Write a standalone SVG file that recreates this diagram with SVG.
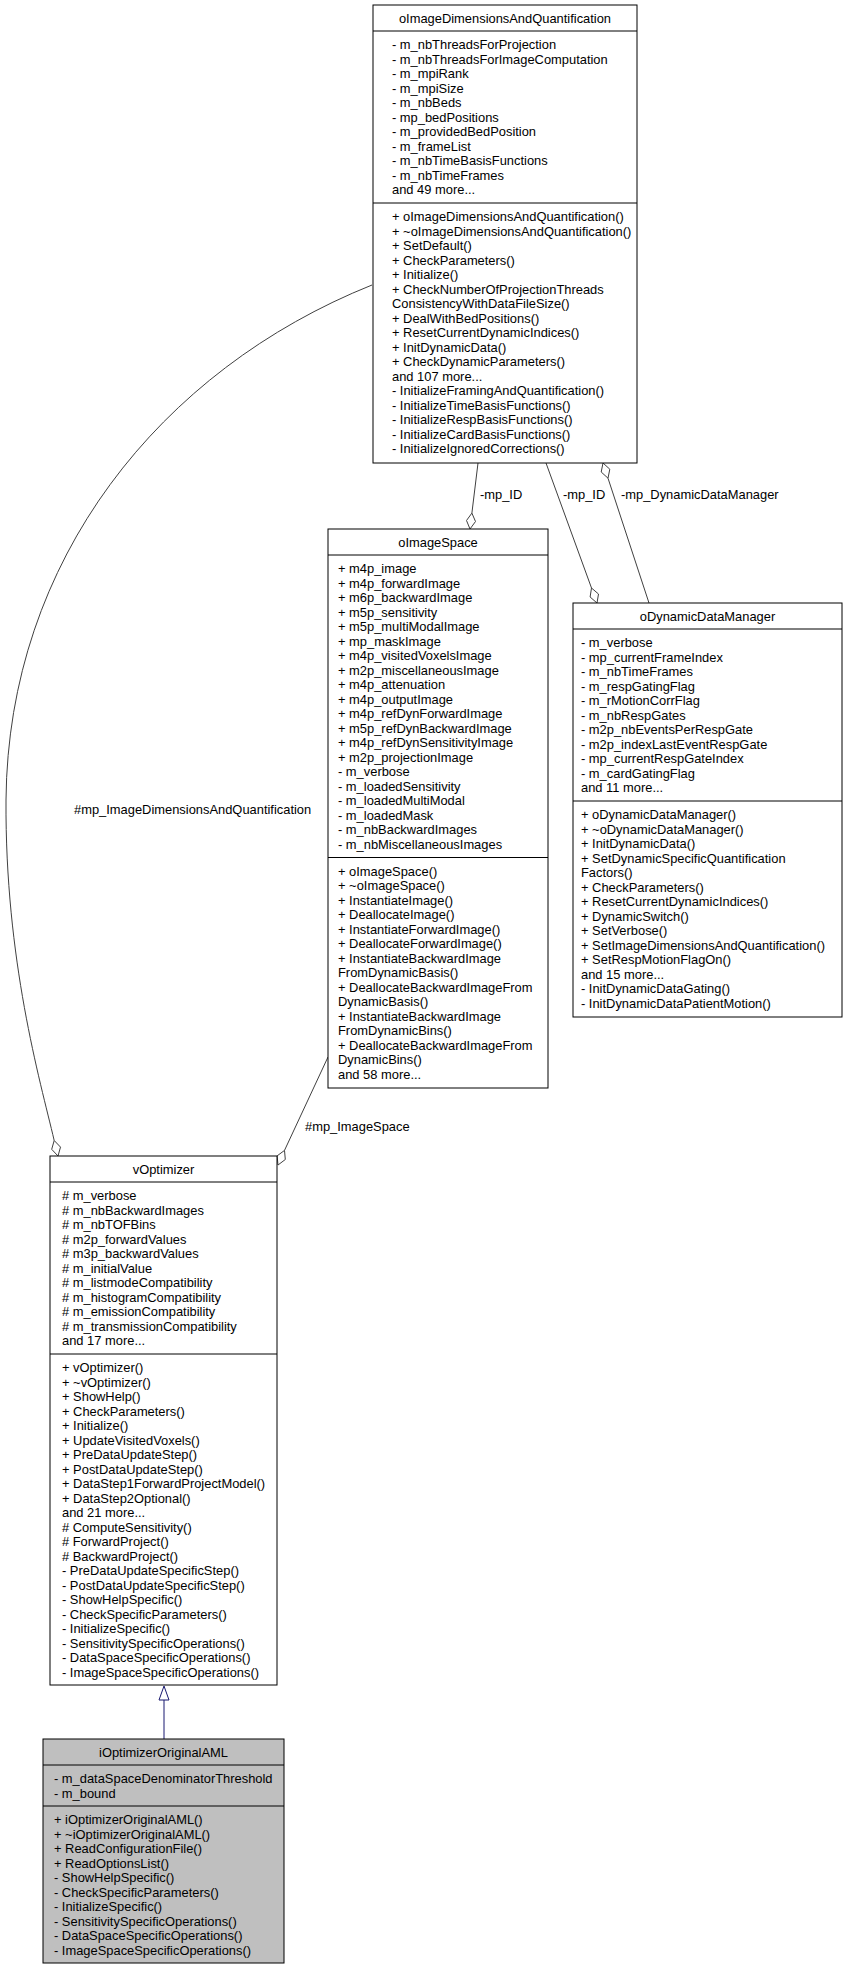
<svg xmlns="http://www.w3.org/2000/svg" width="848" height="1968" viewBox="0 0 848 1968">
<style>
text{font-family:"Liberation Sans",Arial,sans-serif;font-size:12.9px;fill:#000}
.t{text-anchor:middle}
.box{fill:#fff;stroke:#000;stroke-width:1}
.grey{fill:#bfbfbf;stroke:#000;stroke-width:1}
.sep{stroke:#000;stroke-width:1}
.edge{fill:none;stroke:#404040;stroke-width:1}
.dia{fill:#fff;stroke:#404040;stroke-width:1}
</style>
<rect width="848" height="1968" fill="#fff"/>
<g id="connectors">
<path class="edge" d="M372,285 C160,370 8,560 6,800 C5,960 40,1080 54.2,1140.5"/>
<polygon class="dia" points="58,1156 60.5,1147.1 54.2,1140.5 51.7,1149.3"/>
<text x="74" y="814">#mp_ImageDimensionsAndQuantification</text>
<path class="edge" d="M478,463 L471.9,513.1"/>
<polygon class="dia" points="470,529 475.5,521.5 471.9,513.1 466.5,520.5"/>
<text x="480" y="499">-mp_ID</text>
<path class="edge" d="M546,463 L591.5,588"/>
<polygon class="dia" points="597,603 598.5,594 591.5,588 590.1,597"/>
<text x="563" y="499">-mp_ID</text>
<path class="edge" d="M608,478.2 L649,603"/>
<polygon class="dia" points="603,463 609.8,469.2 608,478.2 601.2,472"/>
<text x="621" y="499">-mp_DynamicDataManager</text>
<path class="edge" d="M328,1057 L284.5,1150.4"/>
<polygon class="dia" points="278,1165 285.3,1159.5 284.5,1150.4 277.1,1155.9"/>
<text x="305" y="1131">#mp_ImageSpace</text>
<path d="M164,1739 L164,1700" fill="none" stroke="#191970" stroke-width="1"/>
<polygon points="164,1686 169,1700 159,1700" fill="#fff" stroke="#191970" stroke-width="1"/>
</g>
<g id="oImageDimensionsAndQuantification">
<rect class="box" x="373" y="5" width="264" height="458"/>
<line class="sep" x1="373" y1="31" x2="637" y2="31"/>
<line class="sep" x1="373" y1="203" x2="637" y2="203"/>
<text class="t" x="505" y="23">oImageDimensionsAndQuantification</text>
<text x="392" y="49">- m_nbThreadsForProjection</text>
<text x="392" y="63.5">- m_nbThreadsForImageComputation</text>
<text x="392" y="78">- m_mpiRank</text>
<text x="392" y="92.5">- m_mpiSize</text>
<text x="392" y="107">- m_nbBeds</text>
<text x="392" y="121.5">- mp_bedPositions</text>
<text x="392" y="136">- m_providedBedPosition</text>
<text x="392" y="150.5">- m_frameList</text>
<text x="392" y="165">- m_nbTimeBasisFunctions</text>
<text x="392" y="179.5">- m_nbTimeFrames</text>
<text x="392" y="194">and 49 more...</text>
<text x="392" y="221">+ oImageDimensionsAndQuantification()</text>
<text x="392" y="235.5">+ ~oImageDimensionsAndQuantification()</text>
<text x="392" y="250">+ SetDefault()</text>
<text x="392" y="264.5">+ CheckParameters()</text>
<text x="392" y="279">+ Initialize()</text>
<text x="392" y="293.5">+ CheckNumberOfProjectionThreads</text>
<text x="392" y="308">ConsistencyWithDataFileSize()</text>
<text x="392" y="322.5">+ DealWithBedPositions()</text>
<text x="392" y="337">+ ResetCurrentDynamicIndices()</text>
<text x="392" y="351.5">+ InitDynamicData()</text>
<text x="392" y="366">+ CheckDynamicParameters()</text>
<text x="392" y="380.5">and 107 more...</text>
<text x="392" y="395">- InitializeFramingAndQuantification()</text>
<text x="392" y="409.5">- InitializeTimeBasisFunctions()</text>
<text x="392" y="424">- InitializeRespBasisFunctions()</text>
<text x="392" y="438.5">- InitializeCardBasisFunctions()</text>
<text x="392" y="453">- InitializeIgnoredCorrections()</text>
</g>
<g id="oImageSpace">
<rect class="box" x="328" y="529" width="220" height="559"/>
<line class="sep" x1="328" y1="555" x2="548" y2="555"/>
<line class="sep" x1="328" y1="857.5" x2="548" y2="857.5"/>
<text class="t" x="438" y="547">oImageSpace</text>
<text x="338" y="573">+ m4p_image</text>
<text x="338" y="587.5">+ m4p_forwardImage</text>
<text x="338" y="602">+ m6p_backwardImage</text>
<text x="338" y="616.5">+ m5p_sensitivity</text>
<text x="338" y="631">+ m5p_multiModalImage</text>
<text x="338" y="645.5">+ mp_maskImage</text>
<text x="338" y="660">+ m4p_visitedVoxelsImage</text>
<text x="338" y="674.5">+ m2p_miscellaneousImage</text>
<text x="338" y="689">+ m4p_attenuation</text>
<text x="338" y="703.5">+ m4p_outputImage</text>
<text x="338" y="718">+ m4p_refDynForwardImage</text>
<text x="338" y="732.5">+ m5p_refDynBackwardImage</text>
<text x="338" y="747">+ m4p_refDynSensitivityImage</text>
<text x="338" y="761.5">+ m2p_projectionImage</text>
<text x="338" y="776">- m_verbose</text>
<text x="338" y="790.5">- m_loadedSensitivity</text>
<text x="338" y="805">- m_loadedMultiModal</text>
<text x="338" y="819.5">- m_loadedMask</text>
<text x="338" y="834">- m_nbBackwardImages</text>
<text x="338" y="848.5">- m_nbMiscellaneousImages</text>
<text x="338" y="875.5">+ oImageSpace()</text>
<text x="338" y="890">+ ~oImageSpace()</text>
<text x="338" y="904.5">+ InstantiateImage()</text>
<text x="338" y="919">+ DeallocateImage()</text>
<text x="338" y="933.5">+ InstantiateForwardImage()</text>
<text x="338" y="948">+ DeallocateForwardImage()</text>
<text x="338" y="962.5">+ InstantiateBackwardImage</text>
<text x="338" y="977">FromDynamicBasis()</text>
<text x="338" y="991.5">+ DeallocateBackwardImageFrom</text>
<text x="338" y="1006">DynamicBasis()</text>
<text x="338" y="1020.5">+ InstantiateBackwardImage</text>
<text x="338" y="1035">FromDynamicBins()</text>
<text x="338" y="1049.5">+ DeallocateBackwardImageFrom</text>
<text x="338" y="1064">DynamicBins()</text>
<text x="338" y="1078.5">and 58 more...</text>
</g>
<g id="oDynamicDataManager">
<rect class="box" x="573" y="603" width="269" height="414"/>
<line class="sep" x1="573" y1="629" x2="842" y2="629"/>
<line class="sep" x1="573" y1="801" x2="842" y2="801"/>
<text class="t" x="707.5" y="621">oDynamicDataManager</text>
<text x="581" y="647">- m_verbose</text>
<text x="581" y="661.5">- mp_currentFrameIndex</text>
<text x="581" y="676">- m_nbTimeFrames</text>
<text x="581" y="690.5">- m_respGatingFlag</text>
<text x="581" y="705">- m_rMotionCorrFlag</text>
<text x="581" y="719.5">- m_nbRespGates</text>
<text x="581" y="734">- m2p_nbEventsPerRespGate</text>
<text x="581" y="748.5">- m2p_indexLastEventRespGate</text>
<text x="581" y="763">- mp_currentRespGateIndex</text>
<text x="581" y="777.5">- m_cardGatingFlag</text>
<text x="581" y="792">and 11 more...</text>
<text x="581" y="819">+ oDynamicDataManager()</text>
<text x="581" y="833.5">+ ~oDynamicDataManager()</text>
<text x="581" y="848">+ InitDynamicData()</text>
<text x="581" y="862.5">+ SetDynamicSpecificQuantification</text>
<text x="581" y="877">Factors()</text>
<text x="581" y="891.5">+ CheckParameters()</text>
<text x="581" y="906">+ ResetCurrentDynamicIndices()</text>
<text x="581" y="920.5">+ DynamicSwitch()</text>
<text x="581" y="935">+ SetVerbose()</text>
<text x="581" y="949.5">+ SetImageDimensionsAndQuantification()</text>
<text x="581" y="964">+ SetRespMotionFlagOn()</text>
<text x="581" y="978.5">and 15 more...</text>
<text x="581" y="993">- InitDynamicDataGating()</text>
<text x="581" y="1007.5">- InitDynamicDataPatientMotion()</text>
</g>
<g id="vOptimizer">
<rect class="box" x="50" y="1156" width="227" height="529"/>
<line class="sep" x1="50" y1="1182" x2="277" y2="1182"/>
<line class="sep" x1="50" y1="1354" x2="277" y2="1354"/>
<text class="t" x="163.5" y="1174">vOptimizer</text>
<text x="62" y="1200"># m_verbose</text>
<text x="62" y="1214.5"># m_nbBackwardImages</text>
<text x="62" y="1229"># m_nbTOFBins</text>
<text x="62" y="1243.5"># m2p_forwardValues</text>
<text x="62" y="1258"># m3p_backwardValues</text>
<text x="62" y="1272.5"># m_initialValue</text>
<text x="62" y="1287"># m_listmodeCompatibility</text>
<text x="62" y="1301.5"># m_histogramCompatibility</text>
<text x="62" y="1316"># m_emissionCompatibility</text>
<text x="62" y="1330.5"># m_transmissionCompatibility</text>
<text x="62" y="1345">and 17 more...</text>
<text x="62" y="1372">+ vOptimizer()</text>
<text x="62" y="1386.5">+ ~vOptimizer()</text>
<text x="62" y="1401">+ ShowHelp()</text>
<text x="62" y="1415.5">+ CheckParameters()</text>
<text x="62" y="1430">+ Initialize()</text>
<text x="62" y="1444.5">+ UpdateVisitedVoxels()</text>
<text x="62" y="1459">+ PreDataUpdateStep()</text>
<text x="62" y="1473.5">+ PostDataUpdateStep()</text>
<text x="62" y="1488">+ DataStep1ForwardProjectModel()</text>
<text x="62" y="1502.5">+ DataStep2Optional()</text>
<text x="62" y="1517">and 21 more...</text>
<text x="62" y="1531.5"># ComputeSensitivity()</text>
<text x="62" y="1546"># ForwardProject()</text>
<text x="62" y="1560.5"># BackwardProject()</text>
<text x="62" y="1575">- PreDataUpdateSpecificStep()</text>
<text x="62" y="1589.5">- PostDataUpdateSpecificStep()</text>
<text x="62" y="1604">- ShowHelpSpecific()</text>
<text x="62" y="1618.5">- CheckSpecificParameters()</text>
<text x="62" y="1633">- InitializeSpecific()</text>
<text x="62" y="1647.5">- SensitivitySpecificOperations()</text>
<text x="62" y="1662">- DataSpaceSpecificOperations()</text>
<text x="62" y="1676.5">- ImageSpaceSpecificOperations()</text>
</g>
<g id="iOptimizerOriginalAML">
<rect class="grey" x="43" y="1739" width="241" height="224"/>
<line class="sep" x1="43" y1="1765" x2="284" y2="1765"/>
<line class="sep" x1="43" y1="1806" x2="284" y2="1806"/>
<text class="t" x="163.5" y="1757">iOptimizerOriginalAML</text>
<text x="54" y="1783">- m_dataSpaceDenominatorThreshold</text>
<text x="54" y="1797.5">- m_bound</text>
<text x="54" y="1824">+ iOptimizerOriginalAML()</text>
<text x="54" y="1838.5">+ ~iOptimizerOriginalAML()</text>
<text x="54" y="1853">+ ReadConfigurationFile()</text>
<text x="54" y="1867.5">+ ReadOptionsList()</text>
<text x="54" y="1882">- ShowHelpSpecific()</text>
<text x="54" y="1896.5">- CheckSpecificParameters()</text>
<text x="54" y="1911">- InitializeSpecific()</text>
<text x="54" y="1925.5">- SensitivitySpecificOperations()</text>
<text x="54" y="1940">- DataSpaceSpecificOperations()</text>
<text x="54" y="1954.5">- ImageSpaceSpecificOperations()</text>
</g>
</svg>
